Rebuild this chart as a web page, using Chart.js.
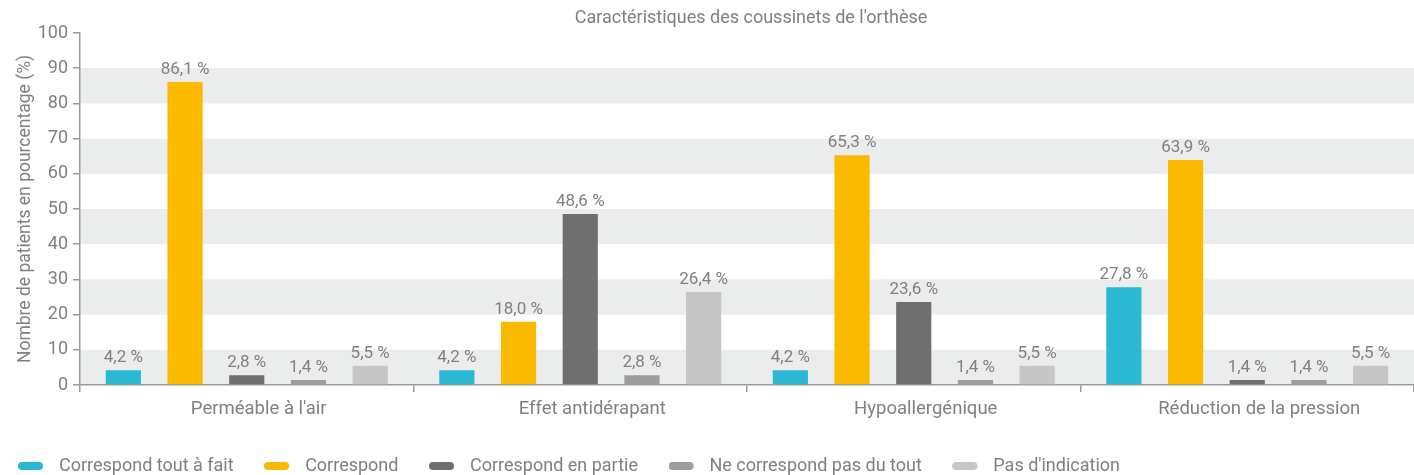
<!DOCTYPE html>
<html><head><meta charset="utf-8">
<script src="https://cdn.jsdelivr.net/npm/chart.js@4.4.1/dist/chart.umd.min.js"></script>
<style>html,body{margin:0;padding:0;background:#fff;}#wrap{width:1414px;height:475px;}</style>
</head><body><div id="wrap"><canvas id="c" width="1414" height="475"></canvas></div>
<script>
const chartTitle = "Caractéristiques des coussinets de l'orthèse";
const yTitle = "Nombre de patients en pourcentage (%)";
const categories = ["Perméable à l'air", "Effet antidérapant", "Hypoallergénique", "Réduction de la pression"];
const seriesNames = ["Correspond tout à fait", "Correspond", "Correspond en partie", "Ne correspond pas du tout", "Pas d'indication"];
const toutAFait = [4.2, 4.2, 4.2, 27.8];
const correspond = [86.1, 18.0, 65.3, 63.9];
const enPartie = [2.8, 48.6, 23.6, 1.4];
const pasDuTout = [1.4, 2.8, 1.4, 1.4];
const pasIndication = [5.5, 26.4, 5.5, 5.5];
const seriesColors = ["#2bb8d2", "#f9ba00", "#6f6f6f", "#9d9d9d", "#c6c6c7"];
const yTicks = [0, 10, 20, 30, 40, 50, 60, 70, 80, 90, 100];

const FONT = "Roboto, 'DejaVu Sans', sans-serif";
const TXT = "#808080";
const AXIS = "#9a9a9a";

function pill(color) {
  const c = document.createElement('canvas');
  c.width = 32; c.height = 10;
  const g = c.getContext('2d');
  g.fillStyle = color;
  g.beginPath();
  g.roundRect(0, 1, 25, 8, 4);
  g.fill();
  return c;
}

const bands = {
  id: 'bands',
  beforeDraw(chart) {
    const {ctx, chartArea, scales} = chart;
    const y = scales.y;
    ctx.save();
    ctx.fillStyle = '#ebecec';
    for (let v = 0; v < 100; v += 20) {
      const y1 = y.getPixelForValue(v + 10), y0 = y.getPixelForValue(v);
      ctx.fillRect(chartArea.left, y1, chartArea.right - chartArea.left, y0 - y1);
    }
    ctx.restore();
  }
};

const valueLabels = {
  id: 'valueLabels',
  afterDatasetsDraw(chart) {
    const {ctx} = chart;
    ctx.save();
    ctx.font = "17px " + FONT;
    ctx.fillStyle = TXT;
    ctx.textAlign = 'center';
    ctx.textBaseline = 'alphabetic';
    chart.data.datasets.forEach((ds, di) => {
      const meta = chart.getDatasetMeta(di);
      meta.data.forEach((el, i) => {
        const v = ds.data[i];
        const t = v.toFixed(1).replace('.', ',') + ' %';
        ctx.fillText(t, el.x, el.y - 8);
      });
    });
    ctx.restore();
  }
};

const topTitle = {
  id: 'topTitle',
  afterDraw(chart) {
    const {ctx, chartArea} = chart;
    ctx.save();
    ctx.font = "18px " + FONT;
    ctx.fillStyle = TXT;
    ctx.textAlign = 'center';
    ctx.textBaseline = 'middle';
    ctx.fillText(chartTitle, (chartArea.left + chartArea.right) / 2 + 4, 18);
    ctx.restore();
  }
};

const allSeries = [toutAFait, correspond, enPartie, pasDuTout, pasIndication];

new Chart(document.getElementById('c'), {
  type: 'bar',
  data: {
    labels: categories,
    datasets: allSeries.map((d, i) => ({
      label: seriesNames[i],
      data: d,
      backgroundColor: seriesColors[i],
      borderWidth: 0,
      categoryPercentage: 0.925,
      barPercentage: 0.57
    }))
  },
  options: {
    responsive: false,
    animation: false,
    layout: { padding: { left: 15, right: 0, top: 33, bottom: -10 } },
    plugins: {
      tooltip: { enabled: false },
      title: { display: false },
      legend: {
        position: 'bottom',
        align: 'start',
        labels: {
          usePointStyle: true,
          pointStyleWidth: 32,
          boxHeight: 10,
          padding: 3,
          color: TXT,
          font: { family: FONT, size: 18 },
          generateLabels(chart) {
            return chart.data.datasets.map((ds, i) => ({
              text: ds.label + (i < 4 ? '\u2003\u2002' : ''),
              pointStyle: pill(seriesColors[i]),
              fillStyle: seriesColors[i],
              strokeStyle: 'transparent',
              lineWidth: 0,
              fontColor: TXT,
              datasetIndex: i,
              hidden: false
            }));
          }
        }
      }
    },
    scales: {
      x: {
        grid: { display: true, drawOnChartArea: false, drawTicks: true, tickLength: 7, color: AXIS, lineWidth: 1.5 },
        border: { display: true, color: AXIS, width: 1.5 },
        ticks: { color: TXT, font: { family: FONT, size: 18.5 }, padding: 6, labelOffset: 12 },
        afterFit(s) { s.height = 69; }
      },
      y: {
        min: 0, max: 100,
        afterBuildTicks(s) { s.ticks = yTicks.map(v => ({ value: v })); },
        grid: { display: true, drawOnChartArea: false, drawTicks: true, tickLength: 7, color: AXIS, lineWidth: 1.5 },
        border: { display: true, color: AXIS, width: 1.5 },
        ticks: { color: TXT, font: { family: FONT, size: 18 }, padding: 5 },
        title: { display: true, text: yTitle, color: TXT, font: { family: FONT, size: 17.5 }, padding: 0 },
        afterFit(s) { s.width = 65; }
      }
    }
  },
  plugins: [bands, valueLabels, topTitle]
});
</script>
</body></html>
